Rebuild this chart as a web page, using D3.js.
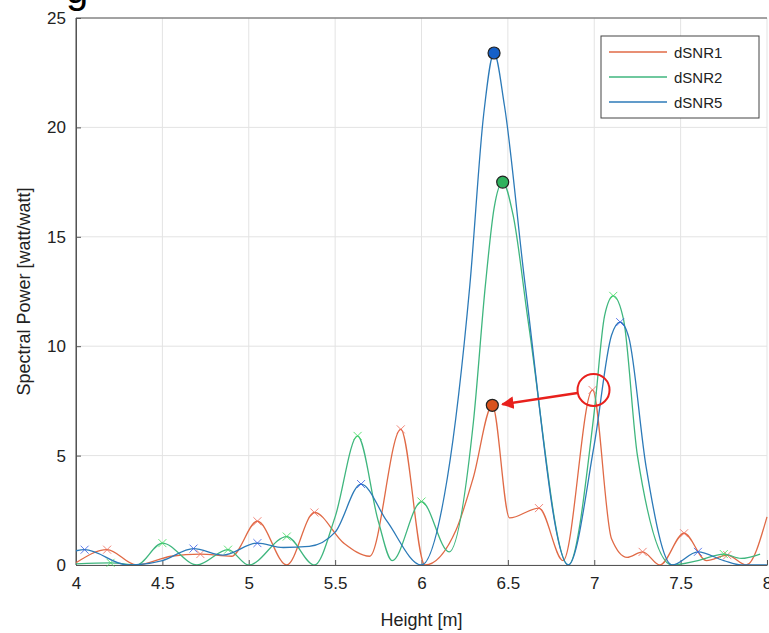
<!DOCTYPE html>
<html><head><meta charset="utf-8">
<script src="https://cdn.jsdelivr.net/npm/d3@7"></script>
<style>body{margin:0;background:#fff}text{font-family:"Liberation Sans",Arial,sans-serif}</style>
</head><body><div id="chart"></div>
<script>
// key points (height [m], power)
const snr1X = [4, 4.18, 4.35, 4.55, 4.72, 4.9, 5.05, 5.22, 5.38, 5.55, 5.7, 5.88, 6.02, 6.2, 6.3, 6.41, 6.51, 6.68, 6.82, 6.99, 7.1, 7.19, 7.28, 7.38, 7.52, 7.65, 7.77, 7.88, 8]
const snr1Y = [0.1, 0.7, 0, 0.4, 0.5, 0.4, 2.0, 0, 2.4, 1.0, 0.4, 6.2, 0, 1.6, 4.0, 7.3, 2.15, 2.6, 0.2, 8.0, 1.2, 0.35, 0.6, 0, 1.45, 0.2, 0.45, 0, 2.2]
const snr2X = [4, 4.2, 4.35, 4.5, 4.7, 4.88, 5.0, 5.22, 5.38, 5.5, 5.63, 5.75, 5.83, 6.0, 6.16, 6.3, 6.37, 6.42, 6.47, 6.53, 6.62, 6.85, 7.0, 7.06, 7.11, 7.17, 7.25, 7.45, 7.6, 7.75, 7.85, 7.96]
const snr2Y = [0.05, 0.1, 0, 1.0, 0, 0.7, 0, 1.3, 0, 2.2, 5.9, 2.0, 0.2, 2.9, 0.6, 6.5, 12.8, 16.3, 17.5, 16.0, 11.0, 0, 7.0, 11.4, 12.3, 11.2, 5.0, 0, 0.2, 0.5, 0.3, 0.5]
const snr5X = [4, 4.05, 4.3, 4.5, 4.68, 4.85, 5.05, 5.2, 5.35, 5.5, 5.65, 5.8, 6.0, 6.15, 6.28, 6.36, 6.42, 6.48, 6.6, 6.85, 7.0, 7.1, 7.15, 7.2, 7.3, 7.45, 7.6, 7.75, 7.85, 8]
const snr5Y = [0.65, 0.7, 0, 0.2, 0.75, 0.45, 1.0, 0.8, 0.85, 1.5, 3.7, 2.0, 0, 4.0, 12.8, 20.6, 23.4, 21.0, 12.8, 0, 5.5, 10.5, 11.1, 10.4, 4.5, 0, 0.6, 0.2, 0, 0]
const names = ['dSNR1', 'dSNR2', 'dSNR5']
const lineColors = ['#e06a46', '#3fb67e', '#2c7ab8']
const markColors = ['#f06a5a', '#3ee05a', '#3a5ee8']
const xTicks = [4, 4.5, 5, 5.5, 6, 6.5, 7, 7.5, 8]
const yTicks = [0, 5, 10, 15, 20, 25]
// highlighted maxima
const dotX = [6.41, 6.47, 6.42]
const dotY = [7.3, 17.5, 23.4]
const dotFill = ['#d9531e', '#2fb25e', '#1560c8']

const W = 769, H = 633
const svg = d3.select('#chart').append('svg').attr('width', W).attr('height', H)
const pL = 76, pR = 767, pT = 18, pB = 565
const x = d3.scaleLinear().domain([4, 8]).range([pL, pR])
const y = d3.scaleLinear().domain([0, 25]).range([pB, pT])

svg.append('text').attr('x', 66).attr('y', 3).attr('font-size', 40).text('g')

// grid
svg.append('g').selectAll('line').data(xTicks).join('line')
  .attr('x1', d => x(d)).attr('x2', d => x(d)).attr('y1', pT).attr('y2', pB)
  .attr('stroke', '#e3e3e3')
svg.append('g').selectAll('line').data(yTicks).join('line')
  .attr('y1', d => y(d)).attr('y2', d => y(d)).attr('x1', pL).attr('x2', pR)
  .attr('stroke', '#e3e3e3')

const fmt = d3.format('~g')
const xAxis = svg.append('g').attr('transform', `translate(0,${pB})`)
  .call(d3.axisBottom(x).tickValues(xTicks).tickFormat(fmt).tickSize(-5).tickSizeOuter(0).tickPadding(12))
const yAxis = svg.append('g').attr('transform', `translate(${pL},0)`)
  .call(d3.axisLeft(y).tickValues(yTicks).tickFormat(fmt).tickSize(-5).tickSizeOuter(0).tickPadding(10))
;[xAxis, yAxis].forEach(a => {
  a.selectAll('path,line').attr('stroke', '#555')
  a.selectAll('text').attr('font-size', 17).attr('fill', '#222')
    .style('font-family', '"Liberation Sans",Arial,sans-serif')
})
svg.append('line').attr('x1', pL).attr('x2', pL).attr('y1', pT).attr('y2', pB).attr('stroke', '#555')
svg.append('line').attr('x1', pL).attr('x2', pR).attr('y1', pT).attr('y2', pT).attr('stroke', '#555')

svg.append('text').attr('x', (pL + pR) / 2).attr('y', 626).attr('text-anchor', 'middle')
  .attr('font-size', 18).attr('fill', '#222').text('Height [m]')
svg.append('text').attr('transform', `translate(30,${(pT + pB) / 2}) rotate(-90)`)
  .attr('text-anchor', 'middle').attr('font-size', 18).attr('fill', '#222').text('Spectral Power [watt/watt]')

const series = [[snr1X, snr1Y], [snr2X, snr2Y], [snr5X, snr5Y]]
const line = d3.line().x(d => x(d[0])).y(d => y(d[1])).curve(d3.curveMonotoneX)
svg.append('clipPath').attr('id', 'c').append('rect')
  .attr('x', pL).attr('y', pT).attr('width', pR - pL + 2).attr('height', pB - pT)

series.forEach((s, i) => {
  const pts = s[0].map((v, j) => [v, s[1][j]])
  svg.append('path').attr('clip-path', 'url(#c)').attr('d', line(pts))
    .attr('fill', 'none').attr('stroke', lineColors[i]).attr('stroke-width', 1.3)
  // x marks at local maxima
  const peaks = pts.filter((p, j) => j > 0 && j < pts.length - 1 && p[1] > pts[j - 1][1] && p[1] > pts[j + 1][1])
  svg.append('g').selectAll('path').data(peaks).join('path')
    .attr('d', d => `M${x(d[0]) - 4},${y(d[1]) - 4}L${x(d[0]) + 4},${y(d[1]) + 4}M${x(d[0]) - 4},${y(d[1]) + 4}L${x(d[0]) + 4},${y(d[1]) - 4}`)
    .attr('stroke', markColors[i]).attr('stroke-width', 1).attr('opacity', 0.8)
})

// annotation
svg.append('circle').attr('cx', x(6.99) + 1).attr('cy', y(8.0)).attr('r', 16)
  .attr('fill', 'none').attr('stroke', '#e8201c').attr('stroke-width', 2)
svg.append('defs').append('marker').attr('id', 'ah').attr('viewBox', '0 0 10 10')
  .attr('refX', 9).attr('refY', 5).attr('markerWidth', 5).attr('markerHeight', 5).attr('orient', 'auto')
  .append('path').attr('d', 'M0,0L10,5L0,10z').attr('fill', '#e8201c')
svg.append('line').attr('x1', x(6.99) - 15).attr('y1', y(8.0) + 3).attr('x2', x(6.41) + 10).attr('y2', y(7.3) - 1)
  .attr('stroke', '#e8201c').attr('stroke-width', 2.5).attr('marker-end', 'url(#ah)')

svg.append('g').selectAll('circle').data(dotX).join('circle')
  .attr('cx', d => x(d)).attr('cy', (d, i) => y(dotY[i])).attr('r', 6)
  .attr('fill', (d, i) => dotFill[i]).attr('stroke', '#222').attr('stroke-width', 1.2)

// legend
const lg = svg.append('g').attr('transform', 'translate(601,36)')
lg.append('rect').attr('width', 158).attr('height', 82).attr('fill', '#fff').attr('stroke', '#444')
names.forEach((n, i) => {
  lg.append('line').attr('x1', 8).attr('x2', 66).attr('y1', 16 + i * 25).attr('y2', 16 + i * 25)
    .attr('stroke', lineColors[i]).attr('stroke-width', 1.3)
  lg.append('text').attr('x', 73).attr('y', 22 + i * 25).attr('font-size', 15).attr('fill', '#222').text(n)
})
</script></body></html>
